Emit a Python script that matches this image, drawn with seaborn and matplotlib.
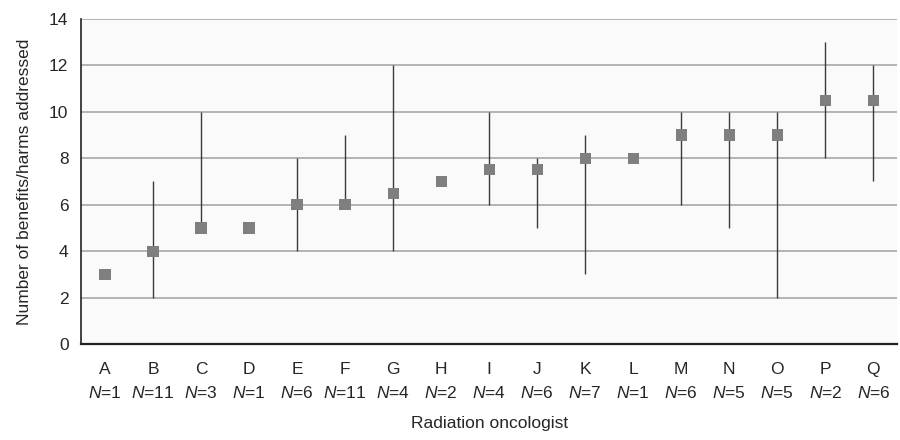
import numpy as np
import pandas as pd
import matplotlib
matplotlib.use('Agg')
import matplotlib.pyplot as plt
import seaborn as sns

# データ
oncologists = list('ABCDEFGHIJKLMNOPQ')
n_patients = [1, 11, 3, 1, 6, 11, 4, 2, 4, 6, 7, 1, 6, 5, 5, 2, 6]
median_count = [3, 4, 5, 5, 6, 6, 6.5, 7, 7.5, 7.5, 8, 8, 9, 9, 9, 10.5, 10.5]
range_low = [3, 2, 5, 5, 4, 6, 4, 7, 6, 5, 3, 8, 6, 5, 2, 8, 7]
range_high = [3, 7, 10, 5, 8, 9, 12, 7, 10, 8, 9, 8, 10, 10, 10, 13, 12]

sns.set_style('white')
plt.rcParams['font.family'] = ['Liberation Sans', 'DejaVu Sans']
plt.rcParams['mathtext.fontset'] = 'custom'
plt.rcParams['mathtext.it'] = 'Liberation Sans:italic'
plt.rcParams['mathtext.rm'] = 'Liberation Sans'

FONT_SIZE = 12.5


def main():
    df = pd.DataFrame({
        'oncologist': oncologists,
        'pos': np.arange(len(oncologists)),
        'median': median_count,
        'low': range_low,
        'high': range_high,
    })

    fig = plt.figure(figsize=(9, 4.4), dpi=100)
    ax = fig.add_axes([0.09, 0.218, 0.907, 0.739])
    ax.set_facecolor('#fafafa')

    # --- 範囲の縦線 ---
    ax.vlines(df['pos'], df['low'], df['high'], color='#3a3a3a',
              linewidth=1.0, zorder=2)

    # --- 中央値マーカー ---
    sns.scatterplot(data=df, x='pos', y='median', marker='s', s=65,
                    color='#7f7f7f', edgecolor='none', ax=ax, zorder=3)

    # --- 軸の装飾 ---
    ax.set_xlim(-0.5, len(oncologists) - 0.5)
    ax.set_ylim(0, 14)
    ax.set_yticks(range(0, 15, 2))
    ax.yaxis.grid(True, color='#a0a0a0', linewidth=1.1)
    ax.set_axisbelow(True)

    labels = [f'{o}\n$N$={n}' for o, n in zip(oncologists, n_patients)]
    ax.set_xticks(df['pos'])
    ax.set_xticklabels(labels, fontsize=FONT_SIZE, linespacing=1.6)
    ax.set_xticks(np.arange(-0.5, len(oncologists), 1), minor=True)
    ax.tick_params(axis='x', which='major', length=0, pad=13)
    ax.tick_params(axis='x', which='minor', length=6, width=1.2,
                   direction='out', color='#222222')
    ax.tick_params(axis='y', length=6, width=1.2, direction='out',
                   color='#222222', labelsize=FONT_SIZE, pad=3)

    for side in ['top', 'right']:
        ax.spines[side].set_visible(False)
    ax.spines['left'].set_color('#222222')
    ax.spines['left'].set_linewidth(1.2)
    ax.spines['bottom'].set_color('#222222')
    ax.spines['bottom'].set_linewidth(1.6)

    ax.set_xlabel('Radiation oncologist', fontsize=FONT_SIZE, labelpad=11)
    ax.set_ylabel('Number of benefits/harms addressed', fontsize=FONT_SIZE,
                  labelpad=12)

    fig.savefig('out.png', dpi=100)


if __name__ == '__main__':
    main()
